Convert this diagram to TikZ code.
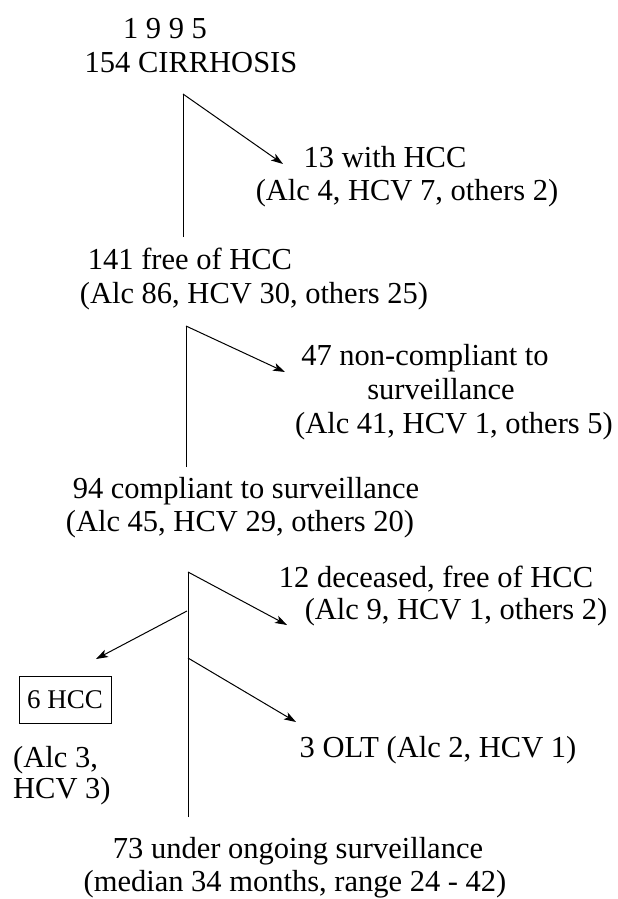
\documentclass[tikz,border=0pt]{standalone}
\usepackage{fontspec}
\setmainfont{Liberation Serif}
\usetikzlibrary{arrows.meta}
\begin{document}
\begin{tikzpicture}[x=1pt,y=-1pt,
  txt/.style={inner sep=0pt, font=\fontsize{30.5}{34}\selectfont},
  small/.style={inner sep=0pt, font=\fontsize{27}{30}\selectfont},
  link/.style={line width=1pt},
  arr/.style={line width=1pt,-{Stealth[length=12pt,width=8pt,inset=3pt]}}]
\useasboundingbox (0,0) rectangle (618,899);
% texts
\node[txt,anchor=base] (yr) at (165,38) {1 9 9 5};
\node[txt,anchor=base] (cir) at (191,72) {154 CIRRHOSIS};
\node[txt,anchor=base] (hcc) at (385,167) {13 with HCC};
\node[txt,anchor=base] (hccd) at (407,200) {(Alc 4, HCV 7, others 2)};
\node[txt,anchor=base] (free) at (190,269) {141 free of HCC};
\node[txt,anchor=base] (freed) at (254,303) {(Alc 86, HCV 30, others 25)};
\node[txt,anchor=base] (nonc) at (425,365) {47 non-compliant to};
\node[txt,anchor=base] (nonc2) at (441,399) {surveillance};
\node[txt,anchor=base] (noncd) at (454,433) {(Alc 41, HCV 1, others 5)};
\node[txt,anchor=base] (comp) at (246,498) {94 compliant to surveillance};
\node[txt,anchor=base] (compd) at (240,531) {(Alc 45, HCV 29, others 20)};
\node[txt,anchor=base] (dec) at (436,587) {12 deceased, free of HCC};
\node[txt,anchor=base] (decd) at (456,619) {(Alc 9, HCV 1, others 2)};
\node[small,draw,line width=1pt,minimum width=92pt,minimum height=47pt] (six) at (65,699.5) {6 HCC};
\node[txt,anchor=base west] (sixd) at (13,767) {(Alc 3,};
\node[txt,anchor=base west] (sixd2) at (13,798) {HCV 3)};
\node[txt,anchor=base] (olt) at (438,757) {3 OLT (Alc 2, HCV 1)};
\node[txt,anchor=base] (ong) at (298,858) {73 under ongoing surveillance};
\node[txt,anchor=base] (ongd) at (295,891) {(median 34 months, range 24 - 42)};
% junction points
\coordinate (j1top) at (183,94);
\coordinate (j1bot) at (183,237);
\coordinate (t1) at (283,164);
\coordinate (j2top) at (186,326);
\coordinate (j2bot) at (186,467);
\coordinate (t2) at (285,372);
\coordinate (j3top) at (188,572);
\coordinate (j3bot) at (188,817);
\coordinate (t3) at (287,625);
\coordinate (j3l) at (187,611);
\coordinate (tL) at (96,659);
\coordinate (j3r) at (188,658);
\coordinate (tR) at (296,722);
% connectors
\draw[link] (j1bot) -- (j1top);
\draw[arr] (j1top) -- (t1);
\draw[link] (j2bot) -- (j2top);
\draw[arr] (j2top) -- (t2);
\draw[link] (j3bot) -- (j3top);
\draw[arr] (j3top) -- (t3);
\draw[arr] (j3l) -- (tL);
\draw[arr] (j3r) -- (tR);
\end{tikzpicture}
\end{document}
